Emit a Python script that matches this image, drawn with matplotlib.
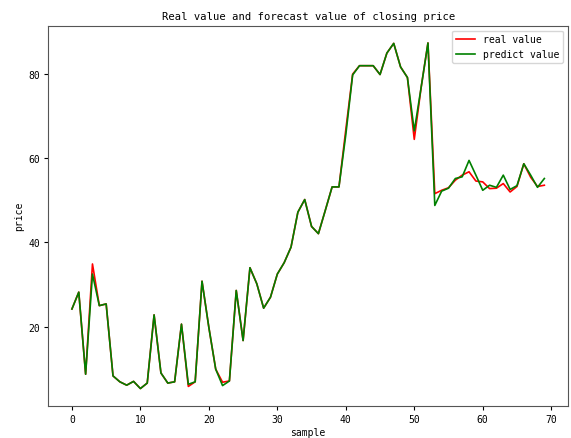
import matplotlib
matplotlib.use("Agg")
import matplotlib.pyplot as plt
import numpy as np

plt.rcParams['font.family'] = ['DejaVu Sans Mono', 'Noto Sans CJK SC']

sample = list(range(70))

real_value = [24.2, 28.2, 8.7, 34.9, 25.0, 25.4, 8.3, 6.9, 6.1, 7.0,
              5.3, 6.6, 22.8, 9.0, 6.6, 6.9, 20.6, 5.8, 6.9, 30.8,
              19.8, 9.9, 6.8, 7.1, 28.6, 16.7, 34.0, 30.2, 24.4, 27.0,
              32.5, 35.2, 38.9, 47.2, 50.2, 43.8, 42.1, 47.6, 53.2, 53.2,
              66.8, 80.0, 82.0, 82.0, 82.0, 79.9, 85.0, 87.3, 81.7, 79.2,
              64.5, 76.8, 87.4, 51.6, 52.4, 53.0, 54.8, 56.0, 56.8, 54.6,
              54.4, 52.8, 52.9, 54.0, 52.0, 53.3, 58.7, 55.5, 53.3, 53.6]

predict_value = [24.2, 28.2, 8.7, 32.5, 25.0, 25.4, 8.3, 6.9, 6.1, 7.0,
                 5.3, 6.6, 22.8, 9.0, 6.6, 6.9, 20.6, 6.3, 6.9, 30.8,
                 19.8, 9.9, 6.0, 7.1, 28.6, 16.7, 34.0, 30.2, 24.4, 27.0,
                 32.5, 35.2, 38.9, 47.2, 50.2, 43.8, 42.1, 47.6, 53.2, 53.2,
                 65.6, 79.8, 82.0, 82.0, 82.0, 79.9, 85.0, 87.3, 81.7, 79.2,
                 66.5, 76.8, 87.4, 48.8, 52.2, 52.9, 55.2, 55.6, 59.5, 56.0,
                 52.4, 53.6, 53.1, 56.0, 52.6, 53.5, 58.7, 56.0, 53.1, 55.2]

fig = plt.figure(figsize=(5.71, 4.39), dpi=100)
ax = fig.add_axes([0.0846, 0.0733, 0.9101, 0.8659])

ax.plot(sample, real_value, color='red', linewidth=1.2, label='real value')
ax.plot(sample, predict_value, color='green', linewidth=1.2, label='predict value')

ax.set_title('Real value and forecast value of closing price', fontsize=7.6, pad=5)
ax.set_xlabel('sample', fontsize=7, labelpad=2)
ax.set_ylabel('price', fontsize=7, labelpad=3)
ax.tick_params(labelsize=7, length=3, pad=3)
ax.set_xticks([0, 10, 20, 30, 40, 50, 60, 70])
ax.set_yticks([20, 40, 60, 80])
ax.legend(loc='upper right', fontsize=7)

for s in ax.spines.values():
    s.set_color('#555555')

fig.savefig('out.png', dpi=100)
